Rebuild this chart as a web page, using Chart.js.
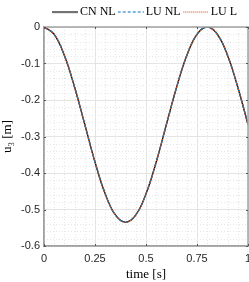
<!DOCTYPE html>
<html>
<head>
<meta charset="utf-8">
<script src="https://cdn.jsdelivr.net/npm/chart.js@4.4.1/dist/chart.umd.min.js"></script>
<style>
  html, body { margin: 0; padding: 0; background: #fff; }
  #wrap { width: 249px; height: 282px; position: relative; }
</style>
</head>
<body>
<div id="wrap"><canvas id="chart"></canvas></div>
<script>
// time samples [s] and vertical displacement u3 [m]
const time = [0, 0.05, 0.1, 0.15, 0.2, 0.25, 0.3, 0.35, 0.4, 0.45, 0.5,
              0.55, 0.6, 0.65, 0.7, 0.75, 0.8, 0.85, 0.9, 0.95, 1.0];
const cnNL = [0, -0.020, -0.078, -0.165, -0.267, -0.370, -0.457, -0.515, -0.535, -0.515, -0.457,
              -0.370, -0.267, -0.165, -0.078, -0.020, 0, -0.020, -0.078, -0.165, -0.267];
const luNL = [0, -0.020, -0.078, -0.165, -0.267, -0.370, -0.457, -0.515, -0.535, -0.515, -0.457,
              -0.370, -0.267, -0.165, -0.078, -0.020, 0, -0.020, -0.078, -0.165, -0.267];
const luL  = [0, -0.020, -0.078, -0.165, -0.267, -0.370, -0.457, -0.515, -0.535, -0.515, -0.457,
              -0.370, -0.267, -0.165, -0.078, -0.020, 0, -0.020, -0.078, -0.165, -0.267];

const xTicks = [0, 0.25, 0.5, 0.75, 1];
const yTicks = [0, -0.1, -0.2, -0.3, -0.4, -0.5, -0.6];
const xMinorStep = 0.05;
const yMinorStep = 0.02;

const toPoints = (ys) => time.map((t, i) => ({ x: t, y: ys[i] }));

const axisColor = '#a3a3a3';
const gridColor = '#e3e3e3';
const minorColor = '#e6e6e6';

// little line sample used as legend symbol (keeps the dash pattern)
function lineSample(color, dash) {
  const c = document.createElement('canvas');
  c.width = 26;
  c.height = 3;
  const g = c.getContext('2d');
  g.strokeStyle = color;
  g.lineWidth = 1.2;
  g.setLineDash(dash);
  g.beginPath();
  g.moveTo(0, 1.5);
  g.lineTo(26, 1.5);
  g.stroke();
  return c;
}

// minor dotted grid, box on top/right and inner tick marks (matlab look)
const matlabAxes = {
  id: 'matlabAxes',
  beforeDatasetsDraw(chart) {
    const { ctx, chartArea: a, scales: { x, y } } = chart;
    ctx.save();
    ctx.strokeStyle = minorColor;
    ctx.lineWidth = 1;
    ctx.setLineDash([1, 2]);
    for (let v = x.min; v <= x.max + 1e-9; v += xMinorStep) {
      const px = Math.round(x.getPixelForValue(v)) + 0.5;
      ctx.beginPath(); ctx.moveTo(px, a.top); ctx.lineTo(px, a.bottom); ctx.stroke();
    }
    for (let v = y.min; v <= y.max + 1e-9; v += yMinorStep) {
      const py = Math.round(y.getPixelForValue(v)) + 0.5;
      ctx.beginPath(); ctx.moveTo(a.left, py); ctx.lineTo(a.right, py); ctx.stroke();
    }
    ctx.restore();
  },
  afterDatasetsDraw(chart) {
    const { ctx, chartArea: a, scales: { x, y } } = chart;
    ctx.save();
    ctx.strokeStyle = axisColor;
    ctx.lineWidth = 1.5;
    ctx.strokeRect(a.left, a.top, a.right - a.left, a.bottom - a.top);
    ctx.strokeStyle = '#555';
    ctx.lineWidth = 1;
    const len = 2;
    xTicks.forEach(v => {
      const px = Math.round(x.getPixelForValue(v)) + 0.5;
      ctx.beginPath(); ctx.moveTo(px, a.bottom); ctx.lineTo(px, a.bottom - len); ctx.stroke();
      ctx.beginPath(); ctx.moveTo(px, a.top); ctx.lineTo(px, a.top + len); ctx.stroke();
    });
    yTicks.forEach(v => {
      const py = Math.round(y.getPixelForValue(v)) + 0.5;
      ctx.beginPath(); ctx.moveTo(a.left, py); ctx.lineTo(a.left + len, py); ctx.stroke();
      ctx.beginPath(); ctx.moveTo(a.right, py); ctx.lineTo(a.right - len, py); ctx.stroke();
    });
    ctx.restore();
  }
};

// fixed legend band height, legend nudged left a bit
const legendTweak = {
  id: 'legendTweak',
  beforeInit(chart) {
    const lg = chart.legend;
    const fit = lg.fit;
    lg.fit = function () {
      fit.call(this);
      this.height = 27;
    };
    const draw = lg.draw;
    lg.draw = function () {
      this.ctx.save();
      this.ctx.translate(-5, 0);
      draw.call(this);
      this.ctx.restore();
    };
  }
};

const ctx = document.getElementById('chart').getContext('2d');
new Chart(ctx, {
  type: 'line',
  data: {
    datasets: [
      {
        label: 'CN NL',
        data: toPoints(cnNL),
        borderColor: '#000000',
        backgroundColor: '#000000',
        borderWidth: 1.3,
        pointRadius: 0,
        pointStyle: lineSample('#000000', []),
        tension: 0.4,
        order: 2
      },
      {
        label: 'LU NL',
        data: toPoints(luNL),
        borderColor: '#0072BD',
        backgroundColor: '#0072BD',
        borderWidth: 1.3,
        borderDash: [4, 2],
        pointRadius: 0,
        pointStyle: lineSample('#0072BD', [3, 2]),
        tension: 0.4,
        order: 1
      },
      {
        label: 'LU L',
        data: toPoints(luL),
        borderColor: '#D95319',
        backgroundColor: '#D95319',
        borderWidth: 1.3,
        borderDash: [1, 1],
        pointRadius: 0,
        pointStyle: lineSample('#D95319', [1, 1]),
        tension: 0.4,
        order: 0
      }
    ]
  },
  options: {
    responsive: true,
    maintainAspectRatio: false,
    animation: false,
    layout: { padding: { left: 0, right: 1, top: 0, bottom: 0 } },
    plugins: {
      tooltip: { enabled: false },
      legend: {
        position: 'top',
        align: 'end',
        labels: {
          usePointStyle: true,
          pointStyleWidth: 18,
          boxHeight: 12,
          padding: 6,
          color: '#000',
          font: { family: 'Liberation Serif', size: 12 },
          sort: (a, b) => a.datasetIndex - b.datasetIndex
        }
      }
    },
    scales: {
      x: {
        type: 'linear',
        min: 0,
        max: 1,
        afterBuildTicks: (scale) => { scale.ticks = xTicks.map(v => ({ value: v })); },
        afterFit: (scale) => {
          scale.height = 36;
          scale.paddingLeft = 0;
          scale.paddingRight = 0;
        },
        grid: { color: gridColor, drawTicks: false },
        border: { color: axisColor, width: 1.5 },
        ticks: {
          padding: 6,
          maxRotation: 0,
          color: '#262626',
          font: { family: 'Liberation Sans', size: 11 },
          callback: (v) => String(v)
        },
        title: {
          display: true,
          text: 'time [s]',
          color: '#000',
          padding: { top: 0, bottom: 0 },
          font: { family: 'Liberation Serif', size: 13 }
        }
      },
      y: {
        type: 'linear',
        min: -0.6,
        max: 0,
        afterBuildTicks: (scale) => { scale.ticks = yTicks.map(v => ({ value: v })); },
        afterFit: (scale) => {
          scale.width = 44;
          scale.paddingTop = 0;
          scale.paddingBottom = 0;
        },
        grid: { color: gridColor, drawTicks: false },
        border: { color: axisColor, width: 1.5 },
        ticks: {
          padding: 4,
          color: '#262626',
          font: { family: 'Liberation Sans', size: 11 },
          callback: (v) => String(Math.round(v * 10) / 10)
        },
        title: {
          display: true,
          text: 'u\u2083 [m]',
          color: '#000',
          padding: { top: 0, bottom: 0 },
          font: { family: 'Liberation Serif', size: 13 }
        }
      }
    }
  },
  plugins: [matlabAxes, legendTweak]
});
</script>
</body>
</html>
